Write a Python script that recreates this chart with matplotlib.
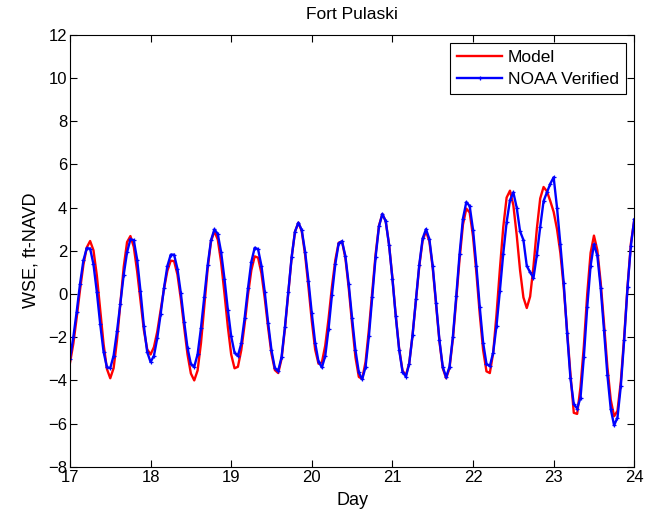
import numpy as np
import matplotlib
matplotlib.use("Agg")
import matplotlib.pyplot as plt

# hourly water surface elevation, ft-NAVD, starting at day 17.0
start_day = 17.0
model_wse = [
    -3.2, -2.3, -1.1, 0.2, 1.35, 2.15, 2.45,
    2.02, 0.86, -0.73, -2.31, -3.47, -3.9,
    -3.43, -2.14, -0.42, 1.25, 2.4,
    2.68, 2.18, 1.05, -0.33, -1.67, -2.56, -2.8,
    -2.46, -1.74, -0.75, 0.24, 1.07, 1.54,
    1.52, 0.9, -0.22, -1.54, -2.8, -3.68, -4.0,
    -3.54, -2.28, -0.55, 1.18, 2.44, 2.9,
    2.52, 1.47, 0.02, -1.52, -2.8, -3.44,
    -3.37, -2.6, -1.4, -0.03, 1.1, 1.74,
    1.68, 0.96, -0.21, -1.56, -2.77, -3.52,
    -3.66, -3.0, -1.6, 0.06, 1.69, 2.88, 3.3,
    2.91, 1.82, 0.33, -1.25, -2.57, -3.23,
    -3.17, -2.39, -1.13, 0.34, 1.57, 2.37,
    2.43, 1.66, 0.26, -1.4, -2.93, -3.84,
    -3.93, -3.15, -1.64, 0.13, 1.85, 3.16, 3.7,
    3.37, 2.28, 0.73, -1.01, -2.53, -3.54,
    -3.78, -3.2, -1.89, -0.28, 1.29, 2.48, 2.9,
    2.44, 1.2, -0.5, -2.2, -3.44, -3.9,
    -3.43, -2.08, -0.27, 1.63, 3.21, 3.95,
    3.77, 2.66, 0.98, -0.93, -2.59, -3.58,
    -3.66, -2.72, -0.93, 1.16, 3.09, 4.46,
    4.78, 4.11, 2.73, 1.1, -0.16, -0.65,
    -0.12, 1.28, 3.02, 4.42, 4.95,
    4.75, 4.3, 3.8, 3.0, 1.9, 0.3, -1.7, -3.7, -5.5,
    -5.55, -4.3, -2.4, 0.0, 1.9, 2.7,
    2.03, 0.54, -1.38, -3.38, -4.9, -5.66,
    -5.41, -4.05, -1.98, 0.35, 2.34, 3.41,
]
noaa_wse = [
    -3.0, -2.0, -0.82, 0.47, 1.55, 2.12,
    2.1, 1.37, 0.09, -1.39, -2.67, -3.39,
    -3.43, -2.85, -1.73, -0.45, 0.89, 1.93, 2.53,
    2.49, 1.59, 0.13, -1.48, -2.69, -3.15,
    -2.86, -2.04, -0.93, 0.28, 1.29, 1.82,
    1.82, 1.16, 0.05, -1.28, -2.5, -3.24,
    -3.37, -2.79, -1.58, -0.14, 1.34, 2.49, 2.99,
    2.78, 1.94, 0.7, -0.72, -1.96, -2.72,
    -2.86, -2.29, -1.12, 0.26, 1.49, 2.14,
    2.07, 1.31, 0.08, -1.34, -2.61, -3.43,
    -3.56, -2.91, -1.53, 0.11, 1.71, 2.89, 3.3,
    2.96, 1.96, 0.62, -0.9, -2.26, -3.13,
    -3.4, -2.87, -1.6, -0.04, 1.38, 2.34,
    2.44, 1.75, 0.44, -1.13, -2.6, -3.63,
    -3.95, -3.38, -1.96, -0.13, 1.71, 3.13, 3.7,
    3.37, 2.27, 0.71, -1.04, -2.57, -3.59, -3.83,
    -3.23, -1.9, -0.25, 1.36, 2.57, 3.0,
    2.54, 1.29, -0.43, -2.14, -3.39, -3.85,
    -3.36, -1.98, -0.1, 1.86, 3.49, 4.25,
    4.07, 2.97, 1.3, -0.6, -2.25, -3.23,
    -3.34, -2.71, -1.46, 0.16, 1.87, 3.32, 4.34, 4.7,
    4.0, 2.9, 2.5, 1.3, 1.0, 0.75, 1.8, 3.1, 4.3, 4.7, 5.1, 5.4,
    4.0, 2.3, 0.5, -1.8, -3.9, -5.1, -5.3, -4.8, -2.9, -0.6, 1.3, 2.3,
    1.78, 0.28, -1.69, -3.75, -5.32, -6.08,
    -5.72, -4.26, -2.12, 0.3, 2.24, 3.45,
]
x_ticks = [17, 18, 19, 20, 21, 22, 23, 24]
y_ticks = [-8, -6, -4, -2, 0, 2, 4, 6, 8, 10, 12]

t_model = start_day + np.arange(len(model_wse)) / 24.0
t_noaa = start_day + np.arange(len(noaa_wse)) / 24.0

plt.rcParams['font.family'] = ['Liberation Sans', 'DejaVu Sans']

fig = plt.figure(figsize=(6.6, 5.17), dpi=100)
ax = fig.add_axes([0.106, 0.097, 0.855, 0.836])

ax.plot(t_model, model_wse, color='#ff0000', linewidth=1.7, label='Model')
ax.plot(t_noaa, noaa_wse, color='#0000ff', linewidth=1.7, marker='+',
        markersize=3.5, markeredgewidth=0.9, label='NOAA Verified')

ax.set_xlim(17, 24)
ax.set_ylim(-8, 12)
ax.set_xticks(x_ticks)
ax.set_yticks(y_ticks)
ax.tick_params(direction='in', top=True, right=True, labelsize=12, length=5, pad=2)
for s in ax.spines.values():
    s.set_linewidth(0.8)

ax.set_title('Fort Pulaski', fontsize=12.5, pad=11)
ax.set_xlabel('Day', fontsize=13, labelpad=5)
ax.set_ylabel('WSE, ft-NAVD', fontsize=13, labelpad=6)

leg = ax.legend(loc='upper right', fontsize=12.5, fancybox=False, framealpha=1,
                edgecolor='black', borderpad=0.4, handlelength=2.6,
                handletextpad=0.3, labelspacing=0.35, borderaxespad=0.5)
leg.get_frame().set_linewidth(0.8)

fig.savefig('out.png', dpi=100)
